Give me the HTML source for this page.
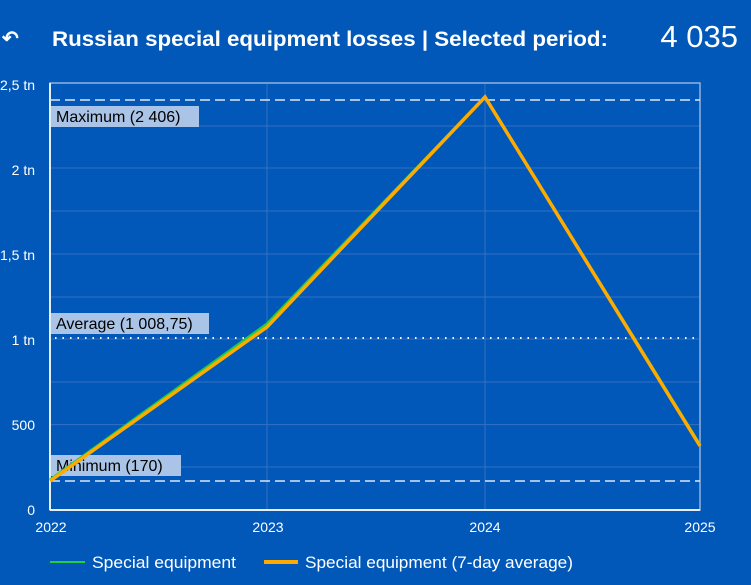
<!DOCTYPE html>
<html><head><style>
body{margin:0;width:751px;height:580px;background:#0158b8;overflow:hidden;font-family:"Liberation Sans",sans-serif;color:#fff}
</style></head><body>
<svg width="751" height="580" xmlns="http://www.w3.org/2000/svg" font-family="Liberation Sans, sans-serif">
<rect width="751" height="580" fill="#0158b8"/>
<text x="2" y="45" font-size="20" fill="#fff" font-weight="bold">↶</text>
<text x="52" y="46" font-size="21" font-weight="bold" fill="#fff" textLength="556" lengthAdjust="spacingAndGlyphs">Russian special equipment losses | Selected period:</text>
<text x="738" y="47" font-size="31" fill="#fff" text-anchor="end">4 035</text>
<g stroke="#3570c2" stroke-width="1">
<line x1="50" y1="467" x2="700" y2="467"/><line x1="50" y1="424.6" x2="700" y2="424.6"/>
<line x1="50" y1="382" x2="700" y2="382"/><line x1="50" y1="339" x2="700" y2="339"/>
<line x1="50" y1="297" x2="700" y2="297"/><line x1="50" y1="254" x2="700" y2="254"/>
<line x1="50" y1="211" x2="700" y2="211"/><line x1="50" y1="168" x2="700" y2="168"/>
<line x1="50" y1="126" x2="700" y2="126"/>
<line x1="267" y1="83" x2="267" y2="510"/><line x1="485" y1="83" x2="485" y2="510"/>
</g>
<rect x="50" y="83" width="650" height="427" fill="none" stroke="#8fb2e0" stroke-width="1.5"/>
<line x1="50" y1="510" x2="700" y2="510" stroke="#e6eef8" stroke-width="2"/>
<line x1="50" y1="83" x2="50" y2="510" stroke="#e6eef8" stroke-width="2"/>
<line x1="50" y1="100" x2="700" y2="100" stroke="#dde6f2" stroke-width="1.5" stroke-dasharray="10,5"/>
<line x1="50" y1="481" x2="700" y2="481" stroke="#dde6f2" stroke-width="1.5" stroke-dasharray="10,5"/>
<line x1="55" y1="338" x2="700" y2="338" stroke="#fff" stroke-width="2" stroke-dasharray="1.5,6"/>
<rect x="51" y="106" width="148" height="21" fill="#a9c4e6"/>
<text x="56" y="122" font-size="16" fill="#000">Maximum (2 406)</text>
<rect x="51" y="313" width="158" height="21" fill="#a9c4e6"/>
<text x="56" y="329" font-size="16" fill="#000">Average (1 008,75)</text>
<rect x="51" y="455" width="130" height="21" fill="#a9c4e6"/>
<text x="56" y="471" font-size="16" fill="#000">Minimum (170)</text>
<polyline points="50,480 267,324 485,97 700,445" fill="none" stroke="#22cc44" stroke-width="3"/>
<polyline points="50,481 267,327 485,97 700,446" fill="none" stroke="#ffaa00" stroke-width="3.5"/>
<g font-size="14" fill="#fff" text-anchor="end">
<text x="35" y="90">2,5 tn</text><text x="35" y="175">2 tn</text><text x="35" y="260">1,5 tn</text>
<text x="35" y="345">1 tn</text><text x="35" y="430">500</text><text x="35" y="515">0</text>
</g>
<g font-size="14" fill="#fff" text-anchor="middle">
<text x="51" y="532">2022</text><text x="268" y="532">2023</text><text x="485" y="532">2024</text><text x="700" y="532">2025</text>
</g>
<line x1="50" y1="562" x2="85" y2="562" stroke="#22cc44" stroke-width="2"/>
<text x="92" y="568" font-size="17" fill="#fff" textLength="144" lengthAdjust="spacingAndGlyphs">Special equipment</text>
<line x1="264" y1="562" x2="298" y2="562" stroke="#ffaa00" stroke-width="4"/>
<text x="305" y="568" font-size="17" fill="#fff" textLength="268" lengthAdjust="spacingAndGlyphs">Special equipment (7-day average)</text>
</svg>
</body></html>
